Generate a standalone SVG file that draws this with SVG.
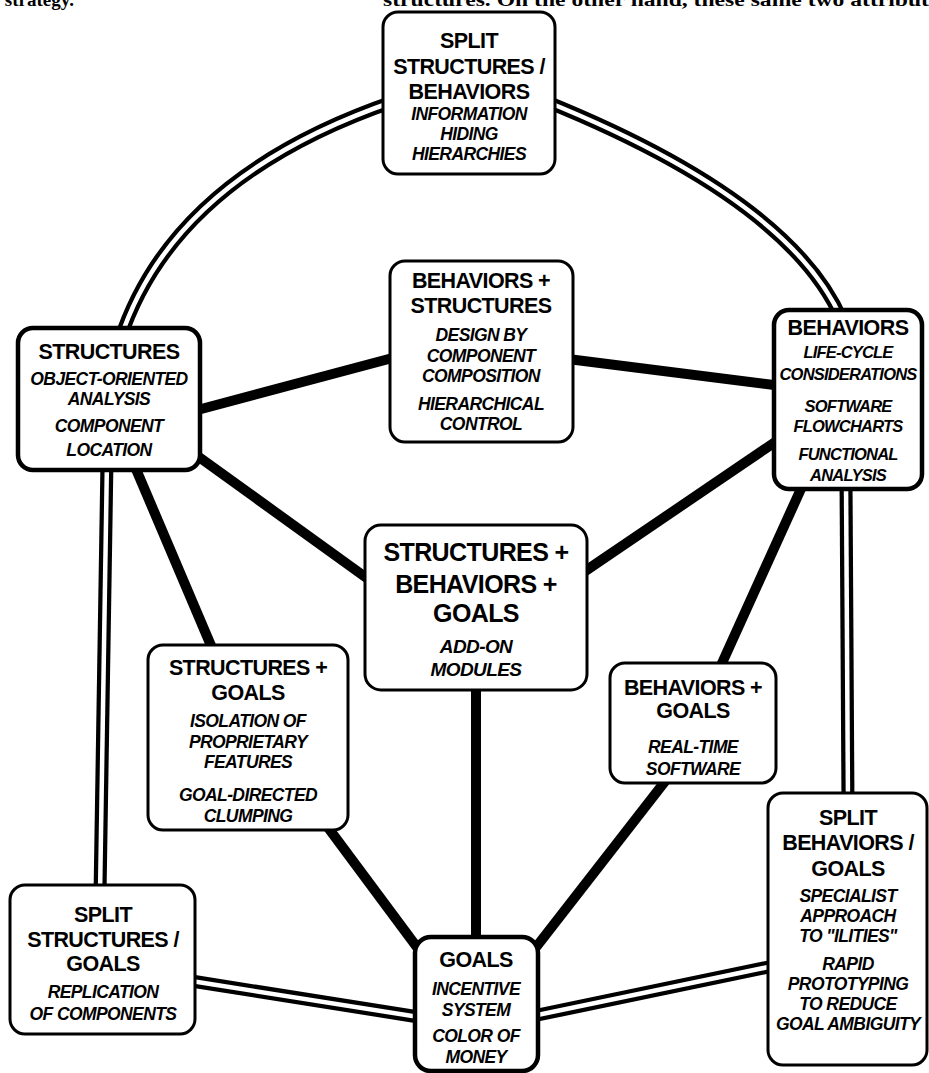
<svg xmlns="http://www.w3.org/2000/svg" width="929" height="1073" viewBox="0 0 929 1073">
<style>
.box{fill:#fff;stroke:#000;stroke-width:3}
.main{stroke-width:4.5}
.t{font-family:"Liberation Sans",Arial,sans-serif;font-weight:bold;font-size:21.5px;text-anchor:middle;fill:#000;letter-spacing:-0.6px}
.big{font-size:25px}
.i{font-family:"Liberation Sans",Arial,sans-serif;font-weight:bold;font-style:italic;font-size:17.5px;text-anchor:middle;fill:#000;letter-spacing:-0.6px}
.sm{font-size:16.5px;letter-spacing:-0.8px}
.thick{stroke:#000;stroke-width:10;fill:none}
.dO{stroke:#000;stroke-width:13;fill:none}
.dI{stroke:#fff;stroke-width:4.5;fill:none}
.hdr{font-family:"Liberation Serif","Times New Roman",serif;font-weight:bold;font-size:19px;fill:#000}
</style>
<defs>
<path id="d1" d="M395,101 Q173,177 120,340"/>
<path id="d2" d="M545,101 Q790,200 842,320"/>
<path id="d3" d="M107,460 L100,895"/>
<path id="d4" d="M846,480 L848,805"/>
<path id="d5" d="M185,980 L425,1018"/>
<path id="d6" d="M528,1017 L778,965"/>
</defs>
<g id="header-fragment">
<text class="hdr" x="-8" y="6">r strategy.</text>
<text class="hdr" x="383" y="6" textLength="546" lengthAdjust="spacingAndGlyphs">structures. On the other hand, these same two attribut</text>
</g>
<g id="connectors">
<use href="#d1" class="dO"/><use href="#d1" class="dI"/>
<use href="#d2" class="dO"/><use href="#d2" class="dI"/>
<use href="#d3" class="dO"/><use href="#d3" class="dI"/>
<use href="#d4" class="dO"/><use href="#d4" class="dI"/>
<use href="#d5" class="dO"/><use href="#d5" class="dI"/>
<use href="#d6" class="dO"/><use href="#d6" class="dI"/>
<line class="thick" x1="190" y1="412" x2="400" y2="356"/>
<line class="thick" x1="560" y1="358" x2="790" y2="387"/>
<line class="thick" x1="185" y1="447" x2="375" y2="584"/>
<line class="thick" x1="790" y1="432" x2="575" y2="578"/>
<line class="thick" x1="130" y1="455" x2="215" y2="655"/>
<line class="thick" x1="805" y1="480" x2="718" y2="672"/>
<line class="thick" x1="476" y1="680" x2="476" y2="945"/>
<line class="thick" x1="315" y1="810" x2="425" y2="958"/>
<line class="thick" x1="670" y1="775" x2="530" y2="955"/>
</g>
<g id="split-structures-behaviors">
<rect class="box" x="383" y="12" width="172" height="162" rx="15"/>
<text class="t" x="469" y="48">SPLIT</text>
<text class="t" x="469" y="74">STRUCTURES /</text>
<text class="t" x="469" y="99">BEHAVIORS</text>
<text class="i" x="469" y="120">INFORMATION</text>
<text class="i" x="469" y="140">HIDING</text>
<text class="i" x="469" y="160">HIERARCHIES</text>
</g>
<g id="structures">
<rect class="box main" x="18" y="328" width="182" height="142" rx="15"/>
<text class="t" x="109" y="359">STRUCTURES</text>
<text class="i" x="109" y="385">OBJECT-ORIENTED</text>
<text class="i" x="109" y="405">ANALYSIS</text>
<text class="i" x="109" y="432">COMPONENT</text>
<text class="i" x="109" y="456">LOCATION</text>
</g>
<g id="behaviors-structures">
<rect class="box" x="390" y="261" width="183" height="181" rx="15"/>
<text class="t" x="481" y="288">BEHAVIORS +</text>
<text class="t" x="481" y="313">STRUCTURES</text>
<text class="i" x="481" y="341">DESIGN BY</text>
<text class="i" x="481" y="362">COMPONENT</text>
<text class="i" x="481" y="382">COMPOSITION</text>
<text class="i" x="481" y="410">HIERARCHICAL</text>
<text class="i" x="481" y="430">CONTROL</text>
</g>
<g id="behaviors">
<rect class="box main" x="774" y="310" width="148" height="179" rx="15"/>
<text class="t" x="848" y="335">BEHAVIORS</text>
<text class="i sm" x="848" y="358">LIFE-CYCLE</text>
<text class="i sm" x="848" y="380">CONSIDERATIONS</text>
<text class="i sm" x="848" y="412">SOFTWARE</text>
<text class="i sm" x="848" y="432">FLOWCHARTS</text>
<text class="i sm" x="848" y="460">FUNCTIONAL</text>
<text class="i sm" x="848" y="481">ANALYSIS</text>
</g>
<g id="structures-behaviors-goals">
<rect class="box" x="365" y="525" width="222" height="165" rx="16"/>
<text class="t big" x="476" y="561">STRUCTURES +</text>
<text class="t big" x="476" y="593">BEHAVIORS +</text>
<text class="t big" x="476" y="622">GOALS</text>
<text class="i" x="476" y="653" style="font-size:19px">ADD-ON</text>
<text class="i" x="476" y="676" style="font-size:19px">MODULES</text>
</g>
<g id="structures-goals">
<rect class="box" x="148" y="645" width="200" height="185" rx="15"/>
<text class="t" x="248" y="675">STRUCTURES +</text>
<text class="t" x="248" y="700">GOALS</text>
<text class="i" x="248" y="727">ISOLATION OF</text>
<text class="i" x="248" y="748">PROPRIETARY</text>
<text class="i" x="248" y="768">FEATURES</text>
<text class="i" x="248" y="801">GOAL-DIRECTED</text>
<text class="i" x="248" y="822">CLUMPING</text>
</g>
<g id="behaviors-goals">
<rect class="box" x="610" y="663" width="166" height="120" rx="15"/>
<text class="t" x="693" y="695">BEHAVIORS +</text>
<text class="t" x="693" y="718">GOALS</text>
<text class="i" x="693" y="753">REAL-TIME</text>
<text class="i" x="693" y="775">SOFTWARE</text>
</g>
<g id="split-behaviors-goals">
<rect class="box" x="768" y="793" width="159" height="272" rx="15"/>
<text class="t" x="848" y="825">SPLIT</text>
<text class="t" x="848" y="850">BEHAVIORS /</text>
<text class="t" x="848" y="876">GOALS</text>
<text class="i" x="848" y="902">SPECIALIST</text>
<text class="i" x="848" y="922">APPROACH</text>
<text class="i" x="848" y="942">TO "ILITIES"</text>
<text class="i" x="848" y="970">RAPID</text>
<text class="i" x="848" y="990">PROTOTYPING</text>
<text class="i" x="848" y="1010">TO REDUCE</text>
<text class="i" x="848" y="1030">GOAL AMBIGUITY</text>
</g>
<g id="split-structures-goals">
<rect class="box" x="10" y="885" width="185" height="149" rx="15"/>
<text class="t" x="103" y="922">SPLIT</text>
<text class="t" x="103" y="947">STRUCTURES /</text>
<text class="t" x="103" y="971">GOALS</text>
<text class="i" x="103" y="998">REPLICATION</text>
<text class="i" x="103" y="1020">OF COMPONENTS</text>
</g>
<g id="goals">
<rect class="box main" x="415" y="937" width="123" height="134" rx="16"/>
<text class="t" x="476" y="967">GOALS</text>
<text class="i" x="476" y="995">INCENTIVE</text>
<text class="i" x="476" y="1016">SYSTEM</text>
<text class="i" x="476" y="1042">COLOR OF</text>
<text class="i" x="476" y="1063">MONEY</text>
</g>
</svg>
